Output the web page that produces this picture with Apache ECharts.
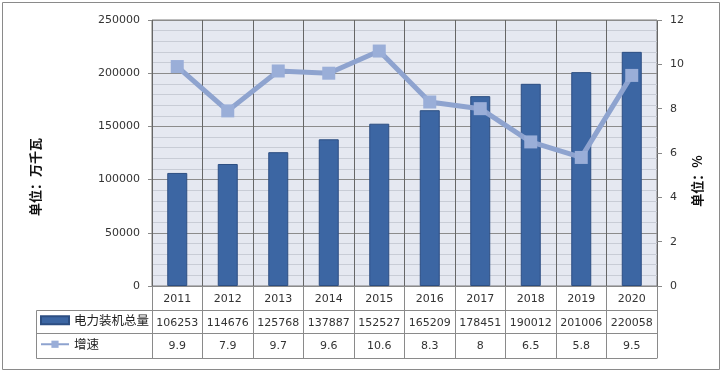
<!DOCTYPE html>
<html>
<head>
<meta charset="utf-8">
<script src="https://cdn.jsdelivr.net/npm/echarts@6/dist/echarts.min.js"></script>
<style>
html,body{margin:0;padding:0;background:#fff;}
#chart{width:724px;height:374px;}
</style>
</head>
<body>
<div id="chart"></div>
<script>
var years = ['2011','2012','2013','2014','2015','2016','2017','2018','2019','2020'];
var capacity = [106253,114676,125768,137887,152527,165209,178451,190012,201006,220058];
var growth = [9.9,7.9,9.7,9.6,10.6,8.3,8,6.5,5.8,9.5];
var leftTicks = [0,250000,50000];
var rightTicks = [0,12,2];
var barName = '电力装机总量';
var lineName = '增速';
var leftTitle = '单位：万千瓦';
var rightTitle = '单位：%';

var chart = echarts.init(document.getElementById('chart'));
var numFont = 'DejaVu Sans';
var cjkFont = 'Noto Sans CJK SC';
var G = {left:152, right:67, top:20, bottom:88};
var tableLine = {show:true, onZero:false, lineStyle:{color:'#8a8a8a', width:1}};

function rowAxis(vals, offset, showLabel){
  return {
    type:'category', data: vals.map(String), position:'bottom', offset: offset,
    axisLine: tableLine, axisTick:{show:false}, splitLine:{show:false},
    axisLabel:{show:showLabel, interval:0, margin:8, color:'#333', fontFamily:numFont, fontSize:11}
  };
}

var option = {
  animation:false,
  backgroundColor:'#ffffff',
  grid: {left:G.left, right:G.right, top:G.top, bottom:G.bottom, show:true, backgroundColor:'#e5e8f1', borderColor:'#7d7d7d', borderWidth:1},
  legend: [
    {left:40, top:314, padding:0, itemWidth:28, itemHeight:8, itemGap:0, data:[{name:barName, icon:'rect'}],
     textStyle:{fontFamily:cjkFont, fontSize:12.5, color:'#222'}},
    {left:40, top:338, padding:0, itemWidth:28, itemHeight:9, itemGap:0, data:[{name:lineName, lineStyle:{width:2}}],
     textStyle:{fontFamily:cjkFont, fontSize:12.5, color:'#222'}}
  ],
  xAxis: [
    {type:'category', data: years, position:'bottom', boundaryGap:true,
     axisLine: tableLine,
     axisTick:{show:true, inside:false, length:72, lineStyle:{color:'#8a8a8a'}},
     splitLine:{show:true, lineStyle:{color:'#666', width:1}},
     axisLabel:{interval:0, margin:8, color:'#333', fontFamily:numFont, fontSize:11}},
    rowAxis(capacity, 24, true),
    rowAxis(growth, 47, true),
    rowAxis(growth, 72, false)
  ],
  yAxis: [
    {type:'value', min:leftTicks[0], max:leftTicks[1], interval:leftTicks[2], position:'left',
     axisLine:{show:false}, axisTick:{show:true, length:4, lineStyle:{color:'#888'}},
     axisLabel:{margin:12, color:'#333', fontFamily:numFont, fontSize:11, formatter:function(v){return String(v);}},
     splitLine:{show:true, lineStyle:{color:'#8c8c8c', width:1}},
     minorTick:{show:false, splitNumber:5},
     minorSplitLine:{show:true, lineStyle:{color:'#c8ccd6', width:1}}},
    {type:'value', min:rightTicks[0], max:rightTicks[1], interval:rightTicks[2], position:'right',
     axisLine:{show:false}, axisTick:{show:true, length:5, lineStyle:{color:'#888'}},
     axisLabel:{margin:13, color:'#333', fontFamily:numFont, fontSize:11},
     splitLine:{show:false}}
  ],
  series: [
    {name:barName, type:'bar', data:capacity, xAxisIndex:0, yAxisIndex:0, barWidth:20,
     itemStyle:{color:'#3c66a3', borderColor:'#2c4e82', borderWidth:1}},
    {name:lineName, type:'line', data:growth, xAxisIndex:0, yAxisIndex:1,
     symbol:'rect', symbolSize:13, lineStyle:{color:'#8ea3cf', width:5},
     itemStyle:{color:'#9aaed8'}, z:5}
  ],
  graphic: [
    {type:'rect', shape:{x:2.5, y:2.5, width:717, height:367}, style:{fill:null, stroke:'#8a8a8a', lineWidth:1}, silent:true, z:-10},
    {type:'polyline', shape:{points:[[152,310.5],[36.5,310.5],[36.5,358.5],[152,358.5]]}, style:{fill:null, stroke:'#8a8a8a', lineWidth:1}, silent:true},
    {type:'line', shape:{x1:36.5, y1:333.5, x2:152, y2:333.5}, style:{stroke:'#8a8a8a', lineWidth:1}, silent:true},
    {type:'text', x:35, y:177, rotation:Math.PI/2, style:{text:leftTitle, fontFamily:cjkFont, fontSize:13, fontWeight:'bold', fill:'#111', align:'center', verticalAlign:'middle'}},
    {type:'text', x:697, y:181, rotation:Math.PI/2, style:{text:rightTitle, fontFamily:cjkFont, fontSize:13, fontWeight:'bold', fill:'#111', align:'center', verticalAlign:'middle'}}
  ]
};
chart.setOption(option);
</script>
</body>
</html>
